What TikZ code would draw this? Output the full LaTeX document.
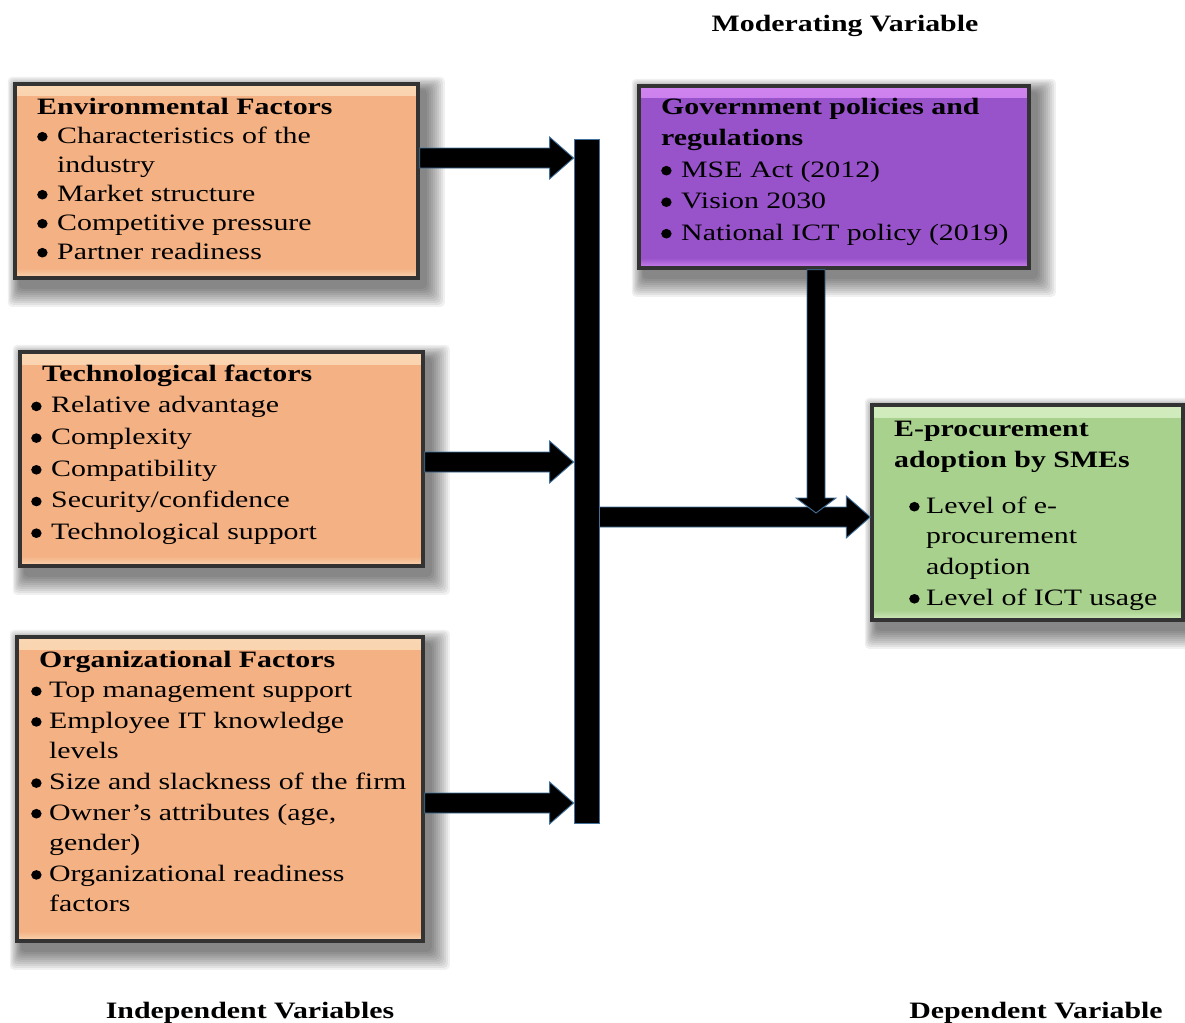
\documentclass[tikz,border=0pt]{standalone}
\usepackage{fontspec}
\setmainfont[FakeStretch=1.27]{Liberation Serif}
\usetikzlibrary{calc}
\definecolor{peach}{RGB}{244,177,131}
\definecolor{peachlt}{RGB}{250,214,178}
\definecolor{purp}{RGB}{152,82,202}
\definecolor{purplt}{RGB}{208,132,240}
\definecolor{grn}{RGB}{169,209,142}
\definecolor{grnlt}{RGB}{210,236,190}
\definecolor{arrowblue}{RGB}{65,113,156}
\newcommand\bulglyph{\tikz[x=1pt,y=1pt,baseline=0pt]\fill[black] (5pt,6.3pt) ellipse [x radius=5.2pt, y radius=4.8pt];}
\newcommand\bul[2][20pt]{\makebox[#1][l]{\bulglyph}#2}
\newcommand\cnt[2][20pt]{\hspace*{#1}#2}
\newcommand\harrow[2]{\draw[blk] let \p1=(#1), \p2=(#2) in
  (\x1,\y1+10pt) -- (\x2-24pt,\y1+10pt) -- (\x2-24pt,\y1+21pt) -- (\x2,\y1) --
  (\x2-24pt,\y1-21pt) -- (\x2-24pt,\y1-10pt) -- (\x1,\y1-10pt) -- cycle;}
\newcommand\varrow[2]{\draw[blk] let \p1=(#1), \p2=(#2) in
  (\x1-9pt,\y1) -- (\x1-9pt,\y2+15pt) -- (\x1-20pt,\y2+15pt) -- (\x1,\y2) --
  (\x1+20pt,\y2+15pt) -- (\x1+9pt,\y2+15pt) -- (\x1+9pt,\y1) -- cycle;}
\pgfdeclarelayer{bg}
\pgfsetlayers{bg,main}
\begin{document}
\begin{tikzpicture}[x=1pt,y=-1pt,
  box/.style 2 args={draw=black!80, line width=3.5pt, fill=#1, inner sep=0pt,
    path picture={
      \shade[top color=#2, bottom color=#1] (path picture bounding box.north west)
        rectangle ([yshift=-12pt]path picture bounding box.north east);
      \shade[top color=#1, bottom color=#2] ([yshift=10pt]path picture bounding box.south west)
        rectangle (path picture bounding box.south east);}},
  txt/.style={anchor=base west, inner sep=0pt},
  lbl/.style={font=\fontsize{23.5}{28}\selectfont\bfseries, anchor=base, inner sep=0pt},
  blk/.style={fill=black, draw=arrowblue, line width=0.9pt, line join=miter}]
\useasboundingbox (0,0) rectangle (1185,1022);

% boxes
\node[box={peach}{peachlt}, minimum width=403pt, minimum height=194pt] (env) at (216.5,181) {};
\node[box={peach}{peachlt}, minimum width=403pt, minimum height=214pt] (tech) at (221.5,459) {};
\node[box={peach}{peachlt}, minimum width=406pt, minimum height=304pt] (org) at (220,789) {};
\node[box={purp}{purplt}, minimum width=390pt, minimum height=182pt] (gov) at (834,177) {};
\node[box={grn}{grnlt}, minimum width=311pt, minimum height=215pt] (ep) at (1027.5,512.5) {};

% shadows
\begin{pgfonlayer}{bg}
\fill[white] (0,0) rectangle (1185,1022);
\foreach \n in {env,tech,org,gov,ep}{
  \foreach \r in {1,3,...,19}{
    \fill[black, opacity=0.06, rounded corners=4pt]
      ([shift={(6-0.6*\r,8-0.7*\r)}]\n.north west) rectangle ([shift={(6+\r,8+\r)}]\n.south east);
  }}
\end{pgfonlayer}

% bar and arrows
\node[blk, minimum width=25pt, minimum height=684pt, inner sep=0pt] (bar) at (586.5,481) {};
\harrow{env.east |- 0,158}{bar.west |- 0,158}
\harrow{tech.east |- 0,462}{bar.west |- 0,462}
\harrow{org.east |- 0,803}{bar.west |- 0,803}
\harrow{bar.east |- 0,517}{ep.west |- 0,517}
\coordinate (dtip) at (816,513);
\varrow{gov.south -| 816,0}{dtip}

% texts
\node[txt, font=\fontsize{23.5}{29}\selectfont] (envt) at (37,114) {\begin{tabular}[t]{@{}l@{}}
\textbf{Environmental Factors}\\
\bul{Characteristics of the}\\
\cnt{industry}\\
\bul{Market structure}\\
\bul{Competitive pressure}\\
\bul{Partner readiness}
\end{tabular}};

\node[txt, font=\fontsize{23.5}{31.7}\selectfont] (techt) at (31,381) {\begin{tabular}[t]{@{}l@{}}
\hspace*{11pt}\textbf{Technological factors}\\
\bul{Relative advantage}\\
\bul{Complexity}\\
\bul{Compatibility}\\
\bul{Security/confidence}\\
\bul{Technological support}
\end{tabular}};

\node[txt, font=\fontsize{23.5}{30.6}\selectfont] (orgt) at (31,667) {\begin{tabular}[t]{@{}l@{}}
\hspace*{8pt}\textbf{Organizational Factors}\\
\bul[18pt]{Top management support}\\
\bul[18pt]{Employee IT knowledge}\\
\cnt[18pt]{levels}\\
\bul[18pt]{Size and slackness of the firm}\\
\bul[18pt]{Owner’s attributes (age,}\\
\cnt[18pt]{gender)}\\
\bul[18pt]{Organizational readiness}\\
\cnt[18pt]{factors}
\end{tabular}};

\node[txt, font=\fontsize{23.5}{31.5}\selectfont] (govt) at (661,114) {\begin{tabular}[t]{@{}l@{}}
\textbf{Government policies and}\\
\textbf{regulations}\\
\bul{MSE Act (2012)}\\
\bul{Vision 2030}\\
\bul{National ICT policy (2019)}
\end{tabular}};

\node[txt, font=\fontsize{23.5}{31}\selectfont] (ept) at (894,436) {\begin{tabular}[t]{@{}l@{}}
\textbf{E-procurement}\\
\textbf{adoption by SMEs}
\end{tabular}};

\node[txt, font=\fontsize{23.5}{30.7}\selectfont] (epl) at (909,513) {\begin{tabular}[t]{@{}l@{}}
\bul[17pt]{Level of e-}\\
\cnt[17pt]{procurement}\\
\cnt[17pt]{adoption}\\
\bul[17pt]{Level of ICT usage}
\end{tabular}};

% labels
\node[lbl] (mod) at (845,32) {Moderating Variable};
\node[lbl] (ind) at (250,1018) {Independent Variables};
\node[lbl] (dep) at (1036,1018) {Dependent Variable};
\end{tikzpicture}
\end{document}
